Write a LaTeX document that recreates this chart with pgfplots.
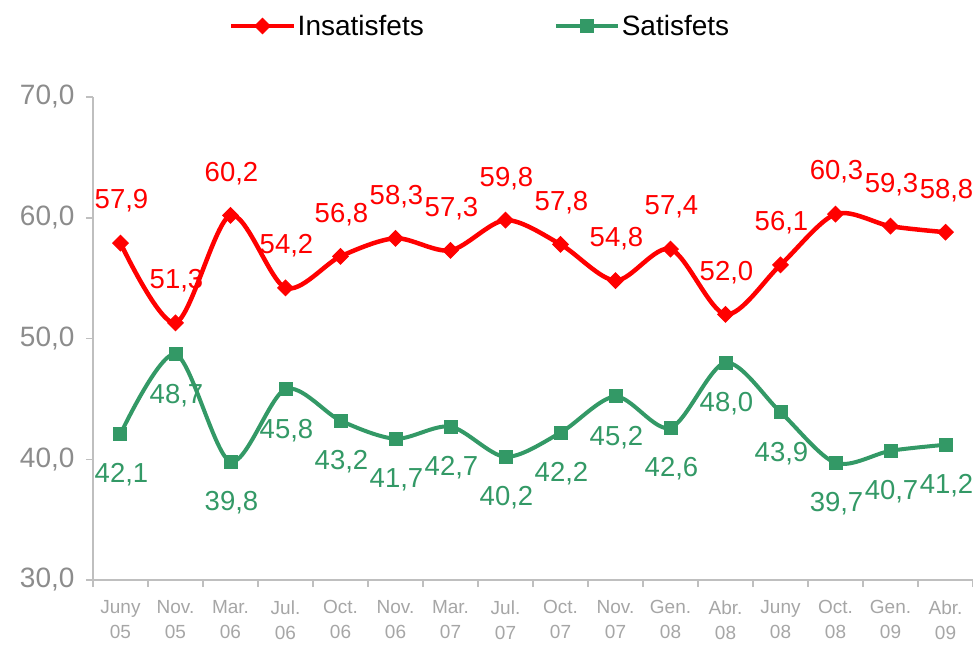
\documentclass[border=0pt]{standalone}
\usepackage{fontspec}
\setmainfont{Liberation Sans}
\usepackage{pgfplots}
\pgfplotsset{compat=1.18}
\definecolor{myred}{HTML}{FF0000}
\definecolor{mygreen}{HTML}{339966}
\definecolor{axgray}{HTML}{BFBFBF}
\definecolor{ylab}{HTML}{8C8C8C}
\definecolor{xlab}{HTML}{A6A6A6}
\begin{document}
\begin{tikzpicture}
\useasboundingbox (-93pt,-66pt) rectangle (880pt,580pt);
\begin{axis}[
  at={(0pt,0pt)}, anchor=south west,
  width=880pt, height=483pt, scale only axis,
  xmin=-0.5, xmax=15.5, ymin=30, ymax=70,
  clip=false,
  axis lines*=left,
  axis line style={axgray, line width=2.5pt},
  ytick={30,40,50,60,70},
  xtick={0,...,15},
  minor xtick={-0.5,0.5,...,15.5},
  tick align=outside,
  major tick length=7pt,
  minor tick length=7pt,
  major x tick style={draw=none},
  minor x tick style={axgray, line width=1.5pt},
  y tick style={axgray, line width=1.5pt},
  /pgf/number format/.cd, fixed, fixed zerofill, precision=1, use comma, assume math mode=true,
  /pgfplots/.cd,
  yticklabel style={font=\fontsize{28}{33}\selectfont, text=ylab, xshift=-8pt},
  xticklabels={{Juny\\05},{Nov.\\05},{Mar.\\06},{Jul.\\06},{Oct.\\06},{Nov.\\06},{Mar.\\07},{Jul.\\07},{Oct.\\07},{Nov.\\07},{Gen.\\08},{Abr.\\08},{Juny\\08},{Oct.\\08},{Gen.\\09},{Abr.\\09}},
  xticklabel style={align=center, font=\fontsize{19}{25}\selectfont, text=xlab, yshift=-10pt},
  legend style={at={(0.44,1)}, anchor=center, yshift=71pt, draw=none, fill=none,
    font=\fontsize{28}{33}\selectfont, legend columns=2,
    /tikz/every even column/.append style={column sep=128pt}},
  legend image code/.code={
    \draw[#1, mark repeat=2, mark phase=2] plot coordinates {(0pt,0pt) (31pt,0pt) (62pt,0pt)};
  },
]
\addplot[myred, line width=4.5pt, smooth, mark=square*, mark size=5.5pt,
  mark options={rotate=45, line width=1pt},
  nodes near coords,
  every node near coord/.append style={anchor=center, yshift=42pt, xshift=1pt, text=myred, font=\fontsize{27.5}{33}\selectfont}]
table {
x y
0 57.9
1 51.3
2 60.2
3 54.2
4 56.8
5 58.3
6 57.3
7 59.8
8 57.8
9 54.8
10 57.4
11 52.0
12 56.1
13 60.3
14 59.3
15 58.8
};
\addlegendentry{Insatisfets}
\addplot[mygreen, line width=4pt, smooth, mark=square*, mark size=6.5pt,
  mark options={line width=1pt},
  nodes near coords,
  every node near coord/.append style={anchor=center, yshift=-41pt, xshift=1pt, text=mygreen, font=\fontsize{27.5}{33}\selectfont}]
table {
x y
0 42.1
1 48.7
2 39.8
3 45.8
4 43.2
5 41.7
6 42.7
7 40.2
8 42.2
9 45.2
10 42.6
11 48.0
12 43.9
13 39.7
14 40.7
15 41.2
};
\addlegendentry{Satisfets}
\draw[axgray, line width=1pt] (rel axis cs:1,0) -- (rel axis cs:1,1);
\end{axis}
\end{tikzpicture}
\end{document}
